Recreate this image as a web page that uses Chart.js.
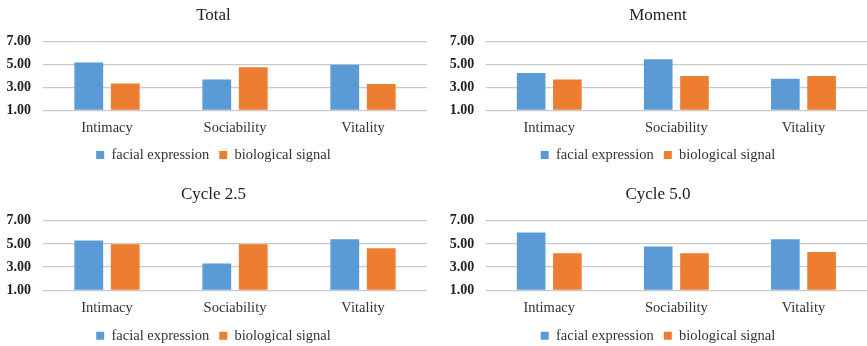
<!DOCTYPE html>
<html>
<head>
<meta charset="utf-8">
<script src="https://cdn.jsdelivr.net/npm/chart.js@4/dist/chart.umd.min.js"></script>
<style>
  html, body { margin: 0; padding: 0; background: #fff; }
  #page { position: relative; width: 867px; height: 346px; overflow: hidden; background: #fff; }
  .panel { position: absolute; }
</style>
</head>
<body>
<div id="page">
  <div class="panel" style="left:0px;top:0px;width:440px;height:173px;"><canvas id="c1"></canvas></div>
  <div class="panel" style="left:449px;top:0px;width:418px;height:173px;"><canvas id="c2"></canvas></div>
  <div class="panel" style="left:0px;top:181px;width:440px;height:173px;"><canvas id="c3"></canvas></div>
  <div class="panel" style="left:449px;top:181px;width:418px;height:173px;"><canvas id="c4"></canvas></div>
</div>
<script>
const categories = ['Intimacy', 'Sociability', 'Vitality'];
const seriesNames = ['facial expression', 'biological signal'];
const yTicks = [1, 3, 5, 7];

const totalFacial = [5.17, 3.70, 4.98];
const totalBio = [3.35, 4.77, 3.29];

const momentFacial = [4.27, 5.46, 3.75];
const momentBio = [3.70, 4.01, 4.01];

const cycle25Facial = [5.29, 3.32, 5.40];
const cycle25Bio = [4.97, 4.97, 4.63];

const cycle50Facial = [5.98, 4.77, 5.40];
const cycle50Bio = [4.20, 4.20, 4.31];

const BLUE = '#5B9BD5';
const ORANGE = '#ED7D31';
const FONT = "'Liberation Serif', 'Times New Roman', serif";

function makeChart(id, title, facial, bio, o) {
  return new Chart(document.getElementById(id), {
    type: 'bar',
    data: {
      labels: categories,
      datasets: [
        { label: seriesNames[0], data: facial, backgroundColor: BLUE, borderWidth: 0, base: 1,
          categoryPercentage: 0.57, barPercentage: 0.79 },
        { label: seriesNames[1], data: bio, backgroundColor: ORANGE, borderWidth: 0, base: 1,
          categoryPercentage: 0.57, barPercentage: 0.79 }
      ]
    },
    options: {
      responsive: true,
      maintainAspectRatio: false,
      animation: false,
      devicePixelRatio: 1,
      layout: { padding: { left: 0, right: o.R, top: 0, bottom: o.pb } },
      plugins: {
        title: {
          display: true, text: title, color: '#222',
          font: { family: FONT, size: 17, weight: 'normal', lineHeight: 1.2 },
          padding: { top: o.tt, bottom: o.tb }
        },
        legend: {
          position: 'bottom',
          labels: {
            color: '#333', boxWidth: 8, boxHeight: 8, padding: 10,
            font: { family: FONT, size: 14.5 }
          }
        },
        tooltip: { enabled: false }
      },
      scales: {
        x: {
          grid: { display: false, drawTicks: false },
          border: { display: false },
          ticks: { color: '#333', padding: 9, font: { family: FONT, size: 14.5 } },
          afterFit: s => { s.height = o.xh; }
        },
        y: {
          min: 1, max: 7,
          afterBuildTicks: s => { s.ticks = yTicks.map(v => ({ value: v })); },
          grid: { color: '#c9c9c9', lineWidth: 1.3, drawTicks: false },
          border: { display: false },
          ticks: {
            color: '#222', padding: o.yp,
            font: { family: FONT, size: 14, weight: 'bold' },
            callback: v => Number(v).toFixed(2)
          },
          afterFit: s => { s.width = o.yw; }
        }
      }
    }
  });
}

const leftTop = { R: 13, pb: 0.75, tt: 5.3, tb: 16, xh: 27.45, yw: 43, yp: 12 };
const rightTop = { R: 0, pb: 0.75, tt: 5.3, tb: 16, xh: 27.45, yw: 36.7, yp: 11.4 };
const leftBot = { R: 13, pb: 1.05, tt: 3.8, tb: 15.5, xh: 28.15, yw: 43, yp: 12 };
const rightBot = { R: 0, pb: 1.05, tt: 3.8, tb: 15.5, xh: 28.15, yw: 36.7, yp: 11.4 };

makeChart('c1', 'Total', totalFacial, totalBio, leftTop);
makeChart('c2', 'Moment', momentFacial, momentBio, rightTop);
makeChart('c3', 'Cycle 2.5', cycle25Facial, cycle25Bio, leftBot);
makeChart('c4', 'Cycle 5.0', cycle50Facial, cycle50Bio, rightBot);
</script>
</body>
</html>
